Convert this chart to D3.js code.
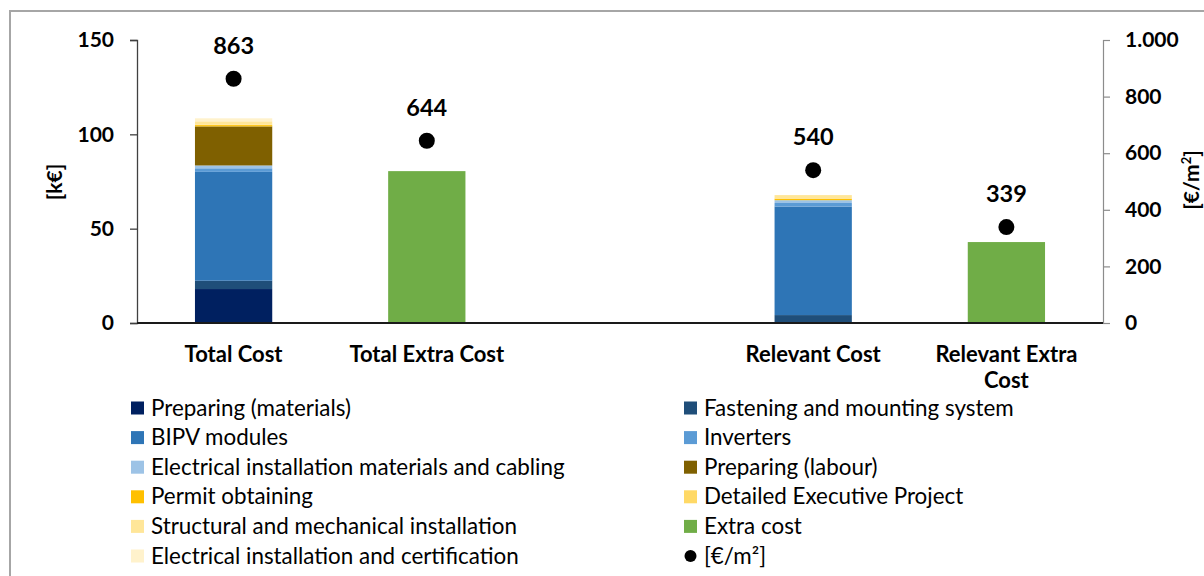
<!DOCTYPE html>
<html>
<head>
<meta charset="utf-8">
<script src="https://cdn.jsdelivr.net/npm/d3@7"></script>
<style>
  html, body { margin: 0; padding: 0; background: #fff; }
  svg { display: block; font-family: Lato, "Open Sans", sans-serif; }
</style>
</head>
<body>
<svg id="chart" width="1204" height="576"></svg>
<script>
// Categories on the x axis (the blank one leaves a gap between the two groups)
const categories = ["Total Cost", "Total Extra Cost", "", "Relevant Cost", "Relevant Extra Cost"];

// Cost components, stacked bottom to top
const components = [
  "Preparing (materials)",
  "Fastening and mounting system",
  "BIPV modules",
  "Inverters",
  "Electrical installation materials and cabling",
  "Preparing (labour)",
  "Permit obtaining",
  "Detailed Executive Project",
  "Structural and mechanical installation",
  "Electrical installation and certification"
];

// Component values in k€
const totalCostValues    = [18.0, 4.4, 57.7, 1.9, 1.5, 20.7, 0.7, 0.3, 1.7, 1.6];
const relevantCostValues = [0.0, 4.2, 57.5, 1.9, 1.5, 0.0, 0.7, 0.3, 1.7, 0.0];

// Extra cost in k€ (only for the "extra" categories)
const extraCostValues = [null, 80.5, null, null, 42.9];

// Specific cost in €/m² (right axis)
const costPerM2 = [863, 644, null, 540, 339];

// Axis ticks
const leftTicks = [0, 50, 100, 150];
const rightTicks = [0, 200, 400, 600, 800, 1000];

// Legend entries, read row by row across two columns
const legendOrder = [
  "Preparing (materials)", "Fastening and mounting system",
  "BIPV modules", "Inverters",
  "Electrical installation materials and cabling", "Preparing (labour)",
  "Permit obtaining", "Detailed Executive Project",
  "Structural and mechanical installation", "Extra cost",
  "Electrical installation and certification", "[€/m²]"
];

// Colours
const componentColors = ["#002060", "#1f4e79", "#2e75b6", "#5b9bd5", "#9dc3e6",
                         "#7f6000", "#ffc000", "#ffd966", "#ffe699", "#fff2cc"];
const extraColor = "#70ad47";

const svg = d3.select("#chart");

// Outer chart frame
svg.append("path")
  .attr("d", "M10,576 V11 H1204")
  .attr("fill", "none")
  .attr("stroke", "#a6a6a6")
  .attr("stroke-width", 2);

const plot = { left: 137, right: 1103, top: 40, bottom: 323 };

const x = d3.scaleBand()
  .domain(categories)
  .range([plot.left, plot.right])
  .paddingInner(0.6)
  .paddingOuter(0.3);

const yLeft = d3.scaleLinear().domain([0, 150]).range([plot.bottom, plot.top]);
const yRight = d3.scaleLinear().domain([0, 1000]).range([plot.bottom, plot.top]);

// Stacked component bars
const stackRows = [
  Object.assign({ category: "Total Cost" }, Object.fromEntries(components.map((c, i) => [c, totalCostValues[i]]))),
  Object.assign({ category: "Relevant Cost" }, Object.fromEntries(components.map((c, i) => [c, relevantCostValues[i]])))
];
const series = d3.stack().keys(components)(stackRows);

const barsG = svg.append("g");
series.forEach((s, si) => {
  barsG.selectAll(null)
    .data(s.filter(d => d[1] - d[0] > 0))
    .join("rect")
    .attr("x", d => x(d.data.category))
    .attr("width", x.bandwidth())
    .attr("y", d => yLeft(d[1]))
    .attr("height", d => yLeft(d[0]) - yLeft(d[1]))
    .attr("fill", componentColors[si]);
});

// Extra cost bars
barsG.selectAll(null)
  .data(categories.map((c, i) => ({ c, v: extraCostValues[i] })).filter(d => d.v != null))
  .join("rect")
  .attr("x", d => x(d.c))
  .attr("width", x.bandwidth())
  .attr("y", d => yLeft(d.v))
  .attr("height", d => yLeft(0) - yLeft(d.v))
  .attr("fill", extraColor);

// Left axis
const leftAxis = svg.append("g")
  .attr("transform", `translate(${plot.left},0)`)
  .call(d3.axisLeft(yLeft).tickValues(leftTicks).tickSize(7).tickPadding(16).tickFormat(d3.format("d")));
leftAxis.select(".domain").attr("stroke", "#404040").attr("stroke-width", 1.3);
leftAxis.selectAll(".tick line").attr("stroke", "#404040").attr("stroke-width", 1.3);
leftAxis.selectAll(".tick text")
  .attr("fill", "#000").attr("font-size", 21).attr("font-weight", "bold")
  .attr("font-family", "Lato, sans-serif");

// Right axis with European number formatting
const euroLocale = d3.formatLocale({ decimal: ",", thousands: ".", grouping: [3], currency: ["", " €"] });
const rightAxis = svg.append("g")
  .attr("transform", `translate(${plot.right},0)`)
  .call(d3.axisRight(yRight).tickValues(rightTicks).tickSize(7).tickPadding(15).tickFormat(euroLocale.format(",d")));
rightAxis.select(".domain").attr("stroke", "#8c8c8c").attr("stroke-width", 1.2);
rightAxis.selectAll(".tick line").attr("stroke", "#8c8c8c").attr("stroke-width", 1.2);
rightAxis.selectAll(".tick text")
  .attr("fill", "#000").attr("font-size", 21).attr("font-weight", "bold")
  .attr("font-family", "Lato, sans-serif");

// Baseline (category axis)
svg.append("line")
  .attr("x1", plot.left).attr("x2", plot.right)
  .attr("y1", yLeft(0)).attr("y2", yLeft(0))
  .attr("stroke", "#1a1a1a").attr("stroke-width", 2);

// Axis titles
svg.append("text")
  .attr("transform", `translate(62,182) rotate(-90)`)
  .attr("text-anchor", "middle")
  .attr("font-size", 21).attr("font-weight", "bold")
  .text("[k€]");

const rt = svg.append("text")
  .attr("transform", `translate(1199,180) rotate(-90)`)
  .attr("text-anchor", "middle")
  .attr("font-size", 21).attr("font-weight", "bold");
rt.append("tspan").text("[€/m");
rt.append("tspan").attr("font-size", 13).attr("dy", -8).text("2");
rt.append("tspan").attr("dy", 8).text("]");

// Category labels (wrapped when too wide)
const catG = svg.append("g");
categories.forEach(c => {
  if (!c) return;
  const cx = x(c) + x.bandwidth() / 2;
  const t = catG.append("text")
    .attr("x", cx)
    .attr("y", 362)
    .attr("text-anchor", "middle")
    .attr("font-size", 22).attr("font-weight", "bold");
  const words = c.split(" ");
  let line = [];
  let tspan = t.append("tspan").attr("x", cx).attr("dy", 0);
  words.forEach(w => {
    line.push(w);
    tspan.text(line.join(" "));
    if (tspan.node().getComputedTextLength() > 175 && line.length > 1) {
      line.pop();
      tspan.text(line.join(" "));
      line = [w];
      tspan = t.append("tspan").attr("x", cx).attr("dy", 26).text(w);
    }
  });
});

// €/m² markers with value labels
const pts = categories.map((c, i) => ({ c, v: costPerM2[i] })).filter(d => d.v != null);
svg.selectAll(".pt")
  .data(pts)
  .join("circle")
  .attr("class", "pt")
  .attr("cx", d => x(d.c) + x.bandwidth() / 2)
  .attr("cy", d => yRight(d.v))
  .attr("r", 8)
  .attr("fill", "#000");
svg.selectAll(".ptlabel")
  .data(pts)
  .join("text")
  .attr("class", "ptlabel")
  .attr("x", d => x(d.c) + x.bandwidth() / 2)
  .attr("y", d => yRight(d.v) - 25)
  .attr("text-anchor", "middle")
  .attr("font-size", 23.5).attr("font-weight", "bold")
  .text(d => d.v);

// Legend in two columns
const legendColor = name => name === "Extra cost" ? extraColor
  : name === "[€/m²]" ? "#000" : componentColors[components.indexOf(name)];
const legendCols = [131, 684];
const legendRow0 = 408, legendRowStep = 29.6;
const lg = svg.append("g");
legendOrder.forEach((name, i) => {
  const cx = legendCols[i % 2];
  const cy = legendRow0 + Math.floor(i / 2) * legendRowStep;
  if (name === "[€/m²]") {
    lg.append("circle").attr("cx", cx + 6.5).attr("cy", cy).attr("r", 6).attr("fill", legendColor(name));
  } else {
    lg.append("rect").attr("x", cx).attr("y", cy - 6.5).attr("width", 13).attr("height", 13).attr("fill", legendColor(name));
  }
  lg.append("text")
    .attr("x", cx + 20)
    .attr("y", cy + 7.5)
    .attr("font-size", 22.4)
    .attr("fill", "#000")
    .text(name);
});
</script>
</body>
</html>
